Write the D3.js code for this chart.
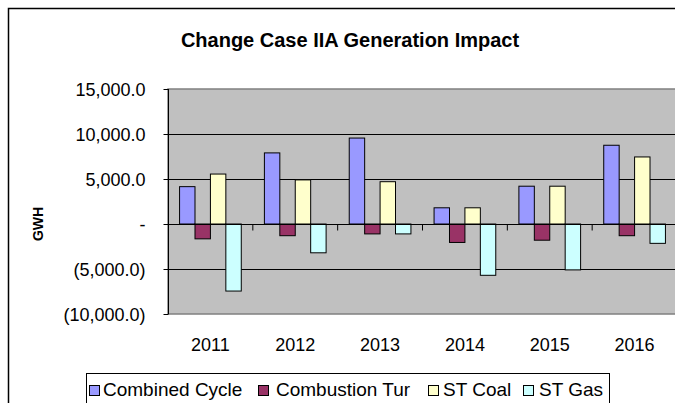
<!DOCTYPE html>
<html>
<head>
<meta charset="utf-8">
<script src="https://cdn.jsdelivr.net/npm/d3@7"></script>
<style>
	body { margin: 0; background: #fff; }
	svg { display: block; font-family: Arial, "Liberation Sans", sans-serif; }
</style>
</head>
<body>
<div id="main"></div>
<script>
// chart data
const years = ["2011", "2012", "2013", "2014", "2015", "2016"];
const series_names = ["Combined Cycle", "Combustion Tur", "ST Coal", "ST Gas"];
const series_colors = ["#9999FF", "#993366", "#FFFFCC", "#CCFFFF"];
const combined_cycle = [4150, 7900, 9550, 1800, 4200, 8750];
const combustion_tur = [-1650, -1300, -1100, -2050, -1800, -1300];
const st_coal = [5550, 4900, 4700, 1800, 4200, 7450];
const st_gas = [-7450, -3200, -1100, -5700, -5100, -2150];
const y_ticks = [-10000, -5000, 0, 5000, 10000, 15000];

const series_values = [combined_cycle, combustion_tur, st_coal, st_gas];

const width = 675, height = 403;
const plot = {left: 168, right: 677, top: 89, bottom: 314};

let svg = d3.select("#main").append("svg")
	.attr("width", width).attr("height", height);

// outer chart border (runs off the right and bottom edges)
svg.append("rect")
	.attr("x", 8.5).attr("y", 8.5)
	.attr("width", 720).attr("height", 420)
	.attr("fill", "#fff").attr("stroke", "#000").attr("stroke-width", 1.5);

// title is centred over the whole chart, which is wider than the window
svg.append("text")
	.attr("x", 350).attr("y", 47)
	.attr("text-anchor", "middle")
	.style("font-size", "20px").style("font-weight", "bold")
	.text("Change Case IIA Generation Impact");

let y = d3.scaleLinear().domain([-10000, 15000]).range([plot.bottom, plot.top]);
let x = d3.scaleBand().domain(years).range([plot.left, plot.right]);

// plot area background
svg.append("rect")
	.attr("x", plot.left).attr("y", plot.top)
	.attr("width", plot.right - plot.left).attr("height", plot.bottom - plot.top)
	.attr("fill", "#C0C0C0").attr("stroke", "#808080").attr("stroke-width", 1.5);

// gridlines
svg.append("g").selectAll("line")
	.data(y_ticks.filter(d => d != -10000 && d != 15000 && d != 0)).enter()
	.append("line")
	.attr("x1", plot.left).attr("x2", plot.right)
	.attr("y1", d => Math.round(y(d)) + 0.5).attr("y2", d => Math.round(y(d)) + 0.5)
	.attr("stroke", "#000").attr("stroke-width", 1);

// y axis
function fmt(d) {
	if (d == 0) return "-";
	let s = d3.format(",.1f")(Math.abs(d));
	return d < 0 ? "(" + s + ")" : s;
}
let y_axis = svg.append("g")
	.attr("transform", "translate(" + (plot.left + 0.5) + ",0)")
	.call(d3.axisLeft(y).tickValues(y_ticks).tickFormat(fmt).tickSize(5).tickPadding(18));
y_axis.select(".domain").attr("stroke", "#000").attr("d", "M0," + plot.top + "V" + plot.bottom);
y_axis.selectAll("text").style("font-size", "18px").attr("fill", "#000").attr("dy", "0.36em");

svg.append("text")
	.attr("transform", "translate(43,224) rotate(-90)")
	.attr("text-anchor", "middle")
	.style("font-size", "14px").style("font-weight", "bold")
	.text("GWH");

// bars, gap width 150% -> each bar is 1/5.5 of the category
let bar_w = x.bandwidth() / 5.5;
let groups = svg.append("g").selectAll("g")
	.data(years).enter()
	.append("g")
	.attr("transform", d => "translate(" + x(d) + ",0)");

groups.selectAll("rect")
	.data((d, i) => series_values.map((s, k) => ({k: k, v: s[i]}))).enter()
	.append("rect")
	.attr("x", d => 0.75 * bar_w + d.k * bar_w)
	.attr("width", bar_w)
	.attr("y", d => y(Math.max(0, d.v)))
	.attr("height", d => Math.abs(y(d.v) - y(0)))
	.attr("fill", d => series_colors[d.k])
	.attr("stroke", "#000").attr("stroke-width", 1);

// zero line / category axis
let x_axis = svg.append("g")
	.attr("transform", "translate(0," + (Math.round(y(0)) + 0.5) + ")");
x_axis.append("line")
	.attr("x1", plot.left).attr("x2", plot.right)
	.attr("stroke", "#000");
x_axis.selectAll(".cat_tick")
	.data(years.slice(1)).enter()
	.append("line")
	.attr("x1", d => x(d)).attr("x2", d => x(d))
	.attr("y1", 0).attr("y2", 6)
	.attr("stroke", "#000");

svg.append("g").selectAll("text")
	.data(years).enter()
	.append("text")
	.attr("x", d => x(d) + x.bandwidth() / 2)
	.attr("y", 351)
	.attr("text-anchor", "middle")
	.style("font-size", "18px")
	.text(d => d);

// legend
let legend = svg.append("g");
legend.append("rect")
	.attr("x", 86.5).attr("y", 373.5)
	.attr("width", 523).attr("height", 40)
	.attr("fill", "#fff").attr("stroke", "#000");
let swatch_x = [89, 258, 428, 523];
let label_x = [103, 276, 443, 539];
let items = legend.selectAll(".item")
	.data(series_names).enter()
	.append("g");
items.append("rect")
	.attr("x", (d, i) => swatch_x[i] + 0.5).attr("y", 385.5)
	.attr("width", 10).attr("height", 10)
	.attr("fill", (d, i) => series_colors[i])
	.attr("stroke", "#000");
items.append("text")
	.attr("x", (d, i) => label_x[i]).attr("y", 396)
	.style("font-size", "19px")
	.text(d => d);
</script>
</body>
</html>
